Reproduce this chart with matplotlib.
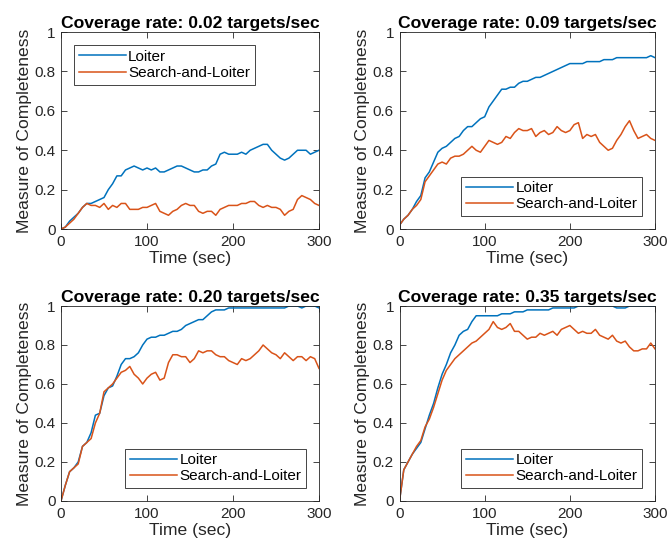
import matplotlib
matplotlib.use('Agg')
import matplotlib.pyplot as plt
import numpy as np

plt.rcParams['font.family'] = ['Liberation Sans', 'DejaVu Sans']

# sample times (sec)
time_sec = list(range(0, 301, 5))

rates = ['0.02', '0.09', '0.20', '0.35']
legend_loc = ['upper left', 'lower right', 'lower right', 'lower right']

# measure of completeness, one list per coverage rate
loiter_002 = [0.00, 0.01, 0.04, 0.06, 0.08, 0.11, 0.13, 0.13, 0.14, 0.15,
	0.16, 0.20, 0.23, 0.27, 0.27, 0.30, 0.31, 0.32, 0.31, 0.30,
	0.31, 0.30, 0.31, 0.29, 0.29, 0.30, 0.31, 0.32, 0.32, 0.31,
	0.30, 0.29, 0.29, 0.30, 0.30, 0.32, 0.33, 0.38, 0.39, 0.38,
	0.38, 0.38, 0.39, 0.38, 0.40, 0.41, 0.42, 0.43, 0.43, 0.40,
	0.38, 0.36, 0.35, 0.36, 0.38, 0.40, 0.40, 0.40, 0.38, 0.39, 0.40]
search_002 = [0.00, 0.01, 0.03, 0.05, 0.08, 0.11, 0.13, 0.12, 0.12, 0.11,
	0.13, 0.10, 0.12, 0.11, 0.13, 0.13, 0.10, 0.10, 0.10, 0.11,
	0.11, 0.12, 0.13, 0.09, 0.08, 0.07, 0.09, 0.10, 0.12, 0.13,
	0.12, 0.12, 0.09, 0.08, 0.09, 0.09, 0.07, 0.10, 0.11, 0.12,
	0.12, 0.12, 0.13, 0.13, 0.14, 0.14, 0.12, 0.11, 0.12, 0.11,
	0.11, 0.10, 0.07, 0.09, 0.10, 0.15, 0.17, 0.16, 0.15, 0.13, 0.12]

loiter_009 = [0.02, 0.05, 0.07, 0.10, 0.14, 0.17, 0.26, 0.29, 0.34, 0.39,
	0.41, 0.42, 0.44, 0.46, 0.47, 0.50, 0.52, 0.52, 0.54, 0.56,
	0.57, 0.62, 0.65, 0.68, 0.71, 0.71, 0.72, 0.72, 0.74, 0.75,
	0.75, 0.76, 0.77, 0.77, 0.78, 0.79, 0.80, 0.81, 0.82, 0.83,
	0.84, 0.84, 0.84, 0.84, 0.85, 0.85, 0.85, 0.85, 0.86, 0.86,
	0.86, 0.87, 0.87, 0.87, 0.87, 0.87, 0.87, 0.87, 0.87, 0.88, 0.87]
search_009 = [0.02, 0.05, 0.07, 0.10, 0.12, 0.15, 0.24, 0.27, 0.30, 0.33,
	0.34, 0.33, 0.36, 0.37, 0.37, 0.38, 0.40, 0.42, 0.40, 0.39,
	0.42, 0.45, 0.44, 0.43, 0.44, 0.47, 0.46, 0.49, 0.51, 0.50,
	0.50, 0.51, 0.47, 0.49, 0.50, 0.48, 0.49, 0.52, 0.50, 0.49,
	0.50, 0.53, 0.54, 0.46, 0.48, 0.47, 0.48, 0.44, 0.42, 0.40,
	0.41, 0.45, 0.48, 0.52, 0.55, 0.50, 0.46, 0.47, 0.48, 0.46, 0.45]

loiter_020 = [0.00, 0.08, 0.15, 0.17, 0.20, 0.28, 0.30, 0.35, 0.44, 0.45,
	0.54, 0.58, 0.59, 0.64, 0.70, 0.73, 0.73, 0.74, 0.76, 0.80,
	0.83, 0.84, 0.84, 0.85, 0.85, 0.86, 0.87, 0.87, 0.88, 0.90,
	0.91, 0.92, 0.93, 0.93, 0.95, 0.97, 0.98, 0.98, 0.98, 0.99,
	0.99, 0.99, 0.99, 0.99, 0.99, 0.99, 0.99, 0.99, 0.99, 0.99,
	0.99, 0.99, 0.99, 1.00, 1.00, 1.00, 0.99, 1.00, 1.00, 1.00, 0.99]
search_020 = [0.00, 0.08, 0.15, 0.17, 0.19, 0.28, 0.30, 0.32, 0.40, 0.45,
	0.56, 0.58, 0.60, 0.63, 0.66, 0.67, 0.69, 0.65, 0.63, 0.60,
	0.63, 0.65, 0.66, 0.62, 0.63, 0.71, 0.75, 0.75, 0.74, 0.74,
	0.71, 0.73, 0.77, 0.76, 0.77, 0.77, 0.75, 0.74, 0.74, 0.72,
	0.71, 0.70, 0.73, 0.72, 0.73, 0.75, 0.77, 0.80, 0.78, 0.76,
	0.75, 0.73, 0.76, 0.74, 0.72, 0.74, 0.74, 0.72, 0.74, 0.73, 0.68]

loiter_035 = [0.00, 0.16, 0.20, 0.24, 0.27, 0.30, 0.37, 0.44, 0.50, 0.58,
	0.65, 0.70, 0.76, 0.80, 0.85, 0.87, 0.88, 0.92, 0.95, 0.95,
	0.95, 0.95, 0.95, 0.95, 0.96, 0.96, 0.96, 0.97, 0.97, 0.97,
	0.98, 0.98, 0.98, 0.98, 0.98, 0.98, 0.99, 0.99, 0.99, 0.99,
	0.99, 0.99, 1.00, 1.00, 1.00, 1.00, 1.00, 1.00, 1.00, 1.00,
	1.00, 0.99, 0.99, 0.99, 1.00, 1.00, 1.00, 1.00, 1.00, 1.00, 1.00]
search_035 = [0.00, 0.16, 0.20, 0.24, 0.28, 0.31, 0.38, 0.42, 0.48, 0.55,
	0.62, 0.67, 0.70, 0.73, 0.75, 0.77, 0.79, 0.81, 0.82, 0.84,
	0.86, 0.88, 0.92, 0.89, 0.88, 0.89, 0.91, 0.87, 0.87, 0.85,
	0.83, 0.84, 0.84, 0.86, 0.85, 0.86, 0.87, 0.85, 0.88, 0.89,
	0.90, 0.88, 0.86, 0.87, 0.86, 0.86, 0.88, 0.85, 0.84, 0.83,
	0.85, 0.82, 0.81, 0.82, 0.79, 0.77, 0.77, 0.78, 0.78, 0.81, 0.78]

loiter_all = [loiter_002, loiter_009, loiter_020, loiter_035]
search_all = [search_002, search_009, search_020, search_035]

BLUE = '#0072BD'
ORANGE = '#D95319'


def main():

	fig = plt.figure(figsize=(6.71, 5.48), dpi=100)

	# axes boxes in figure fractions: [left, bottom, width, height]
	boxes = [
		[0.0909, 0.582, 0.3845, 0.3595],
		[0.5954, 0.582, 0.3808, 0.3595],
		[0.0909, 0.0858, 0.3845, 0.3558],
		[0.5954, 0.0858, 0.3808, 0.3558],
	]

	for i in range(4):
		ax = fig.add_axes(boxes[i])
		t = np.array(time_sec)

		ax.plot(t, loiter_all[i], color=BLUE, lw=1.1, label='Loiter')
		ax.plot(t, search_all[i], color=ORANGE, lw=1.1, label='Search-and-Loiter')

		ax.set_xlim([0, 300])
		ax.set_ylim([0, 1])
		ax.set_xticks([0, 100, 200, 300])
		ax.set_yticks([0, 0.2, 0.4, 0.6, 0.8, 1.0])
		ax.set_yticklabels(['0', '0.2', '0.4', '0.6', '0.8', '1'])
		ax.tick_params(direction='in', top=True, right=True, length=4,
			width=0.6, labelsize=11, colors='#262626', pad=4)
		for sp in ax.spines.values():
			sp.set_linewidth(0.6)
			sp.set_color('#262626')

		ax.set_title('Coverage rate: %s targets/sec' % rates[i],
			fontsize=12.6, fontweight='bold', pad=3)
		ax.set_xlabel('Time (sec)', fontsize=12.6, color='#262626', labelpad=2)
		ax.set_ylabel('Measure of Completeness', fontsize=12.6, color='#262626', labelpad=2)

		leg = ax.legend(loc=legend_loc[i], fontsize=11, fancybox=False,
			framealpha=1, edgecolor='#262626', borderaxespad=0.85,
			handlelength=3.1, handletextpad=0.15, labelspacing=0.15,
			borderpad=0.3)
		leg.get_frame().set_linewidth(0.6)

	fig.savefig('out.png', dpi=100)


if __name__ == "__main__":
	main()
